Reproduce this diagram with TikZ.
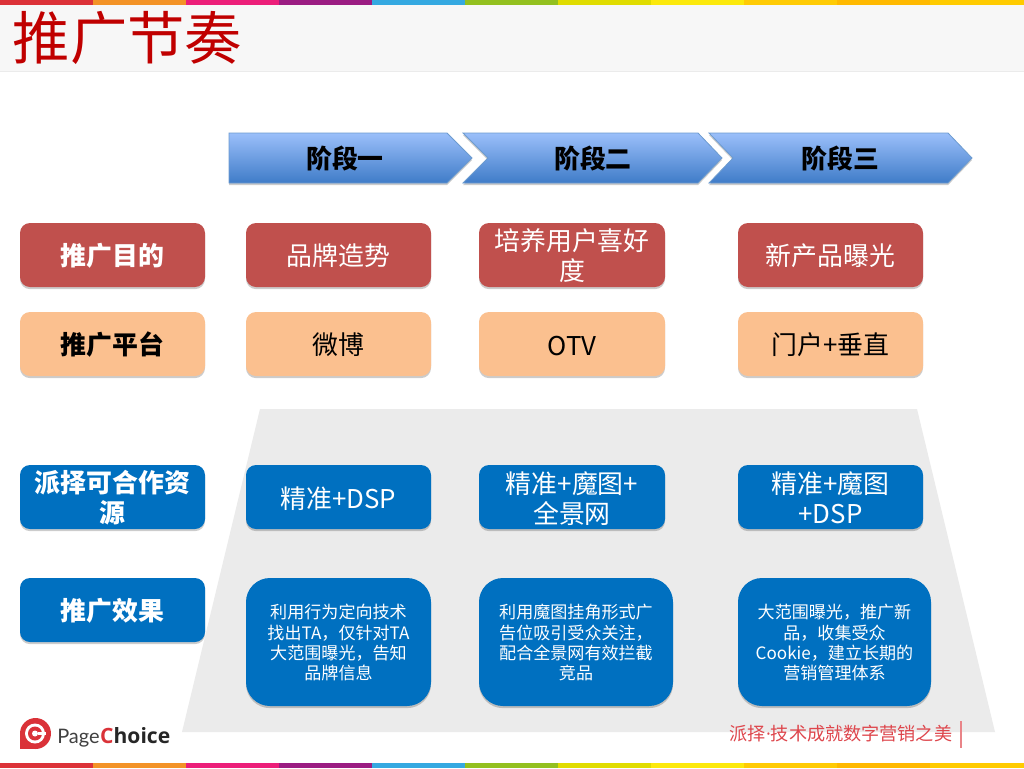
\documentclass[tikz,border=0pt]{standalone}
\usepackage{fontspec}
\setmainfont{Noto Sans CJK SC}
\newfontfamily\logofont{Open Sans}
\newfontfamily\logolight{Lato}
\usetikzlibrary{shadows}
\definecolor{redbox}{HTML}{C0504D}
\definecolor{peach}{HTML}{FBC08F}
\definecolor{bluebox}{HTML}{0070C0}
\definecolor{titlered}{HTML}{C00000}
\definecolor{arrowtop}{HTML}{9BBFFA}
\definecolor{arrowbot}{HTML}{3F7CC8}
\definecolor{arrowline}{HTML}{6C9BCF}
\definecolor{logored}{HTML}{DA3238}
\setlength{\normallineskiplimit}{-20pt}
\setlength{\lineskiplimit}{-20pt}
\tikzset{
  x=0.75pt,y=-0.75pt,
  softshadow/.style={drop shadow={shadow xshift=0pt,shadow yshift=-1.6pt,opacity=.2,fill=black}},
  roundbox/.style={rounded corners=7.5pt,inner sep=0pt,align=center,softshadow},
  labfont/.style={font=\fontsize{19.4}{22.5}\selectfont},
  smallfont/.style={font=\fontsize{12.8}{15.2}\selectfont},
  redb/.style={roundbox,labfont,fill=redbox,text=white},
  peachb/.style={roundbox,labfont,fill=peach,text=black},
  blueb/.style={roundbox,labfont,fill=bluebox,text=white},
  bigb/.style={roundbox,smallfont,fill=bluebox,text=white,rounded corners=18pt},
  chevron/.style={top color=arrowtop,bottom color=arrowbot,draw=arrowline,line width=.6pt,softshadow},
  chevtext/.style={font=\fontsize{19.4}{22}\selectfont\bfseries,text=black,inner sep=0pt},
}
\newcommand{\boxnode}[6]{\node[#1,minimum width=#4*0.75pt,minimum height=#5*0.75pt] (#2) at (#3) {\rule{0pt}{0.93em}#6};}
\begin{document}
\begin{tikzpicture}
\useasboundingbox (0,0) rectangle (1024,768);
\fill[white] (0,0) rectangle (1024,768);
% header
\fill[black!3] (0,5) rectangle (1024,71);
\draw[black!8,line width=.7pt] (0,71) -- (1024,71);
\foreach \a/\b/\c in {0/93/DC3238,93/186/F39327,186/279/EC1E79,279/372/9B1C82,372/465/35A9E1,465/558/93C01F,558/651/E0DC00,651/744/FCE90C,744/837/FFCB05,837/930/FFB900,930/1024/FFCB00}{
  \definecolor{bandc}{HTML}{\c}
  \fill[bandc] (\a,0) rectangle (\b,5);
  \fill[bandc] (\a,763) rectangle (\b,768);
}
\node[anchor=center,inner sep=0pt,font=\fontsize{43}{50}\selectfont,text=titlered] (title) at (127.5,38) {推广节奏};
% trapezoid
\fill[black!8] (260,409) -- (917,409) -- (995,732) -- (182,732) -- cycle;
% chevrons
\path[chevron] (229,133) -- (447,133) -- (472,158) -- (447,183) -- (229,183) -- cycle;
\path[chevron] (463,133) -- (698,133) -- (722,158) -- (698,183) -- (463,183) -- (488,158) -- cycle;
\path[chevron] (709,133) -- (948,133) -- (972,158) -- (948,183) -- (709,183) -- (733,158) -- cycle;
\node[chevtext] (s1) at (345,158.5) {阶段一};
\node[chevtext] (s2) at (593,158.5) {阶段二};
\node[chevtext] (s3) at (840.5,158.5) {阶段三};
% row 1
\boxnode{redb}{l1}{112.5,255}{185}{64}{\bfseries 推广目的}
\boxnode{redb}{a1}{338.5,255}{185}{64}{品牌造势}
\boxnode{redb}{b1}{572,255}{186}{64}{培养用户喜好\\度}
\boxnode{redb}{c1}{830.5,255}{185}{64}{新产品曝光}
% row 2
\boxnode{peachb}{l2}{112.5,344}{185}{64}{\bfseries 推广平台}
\boxnode{peachb}{a2}{338.5,344}{185}{64}{微博}
\boxnode{peachb}{b2}{572,344}{186}{64}{OTV}
\boxnode{peachb}{c2}{830.5,344}{185}{64}{门户+垂直}
% row 3
\boxnode{blueb}{l3}{112.5,497}{185}{64}{\bfseries 派择可合作资\\\bfseries 源}
\boxnode{blueb}{a3}{338.5,497}{185}{64}{精准+DSP}
\boxnode{blueb}{b3}{572,497}{186}{64}{精准+魔图+\\全景网}
\boxnode{blueb}{c3}{830.5,497}{185}{64}{精准+魔图\\+DSP}
% row 4
\boxnode{blueb}{l4}{112.5,610}{185}{64}{\bfseries 推广效果}
\boxnode{bigb}{a4}{338.5,642}{185}{128}{利用行为定向技术\\找出TA，仅针对TA\\大范围曝光，告知\\品牌信息}
\boxnode{bigb}{b4}{576,642}{194}{128}{利用魔图挂角形式广\\告位吸引受众关注，\\配合全景网有效拦截\\竞品}
\boxnode{bigb}{c4}{834.5,642}{193}{128}{大范围曝光，推广新\\品，收集受众\\Cookie，建立长期的\\营销管理体系}
% logo
\fill[logored] (35.5,733.5) circle (15.5);
\fill[logored] (20,733.5) rectangle (35.5,749);
\fill[white] (35,733.5) circle (10);
\fill[logored] (35,733.5) circle (7);
\fill[white] (35,733.5) circle (3);
\fill[white] (38,732) rectangle (46,735);
\node[anchor=base west,inner sep=0pt,font=\logolight\fontsize{15}{18}\selectfont,text=black!75] (logoa) at (57,743) {Page};
\node[anchor=base west,inner sep=0pt,font=\logofont\bfseries\fontsize{15.8}{18}\selectfont,text=black!85] (logob) at (logoa.base east) {\textcolor{logored}{C}hoice};
% slogan
\node[anchor=center,inner sep=0pt,font=\fontsize{13.6}{16}\selectfont,text=logored!90] (slogan) at (841,734) {派择{\logofont ·}技术成就数字营销之美};
\coordinate (v1) at (961,721);
\coordinate (v2) at (961,748);
\draw[logored!60,line width=.8pt] (v1) -- (v2);
\end{tikzpicture}
\end{document}
